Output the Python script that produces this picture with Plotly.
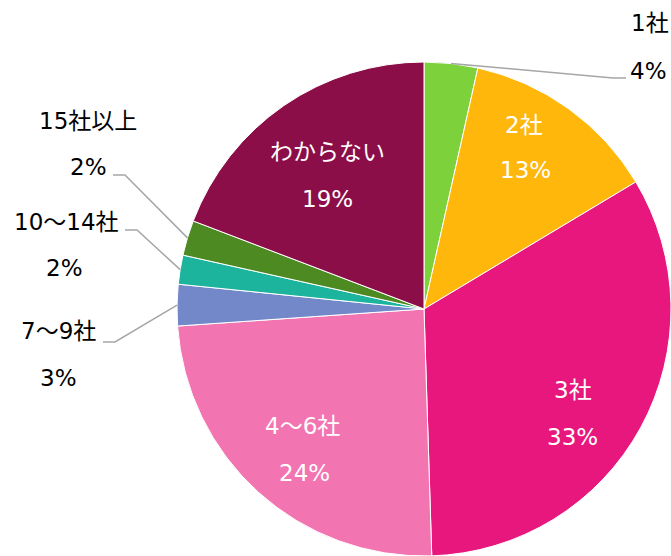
import math
import plotly.graph_objects as go

# ---- data ----
categories = ["1社", "2社", "3社", "4～6社", "7～9社", "10～14社", "15社以上", "わからない"]
values = [3.5, 12.9, 33.1, 24.4, 2.7, 1.9, 2.3, 19.2]
pct_labels = ["4%", "13%", "33%", "24%", "3%", "2%", "2%", "19%"]

# ---- style ----
colors = ["#7DD13B", "#FFB70C", "#E8177D", "#F274B0", "#7388C9", "#1DB49E", "#4E8A22", "#8C0E48"]
WIN_W, WIN_H = 671, 556
OFF = 0  # page body margin removed via post_script
W, H = WIN_W, WIN_H
FONT = "DejaVu Sans, Noto Sans CJK JP, sans-serif"
FS = 23

# pie geometry (window pixels)
R_PIX = 247
cx, cy = 424, 309
dom_x = [(cx - R_PIX - OFF) / W, min(1.0, (cx + R_PIX - OFF) / W)]
dom_y = [max(0.0, 1 - (cy + R_PIX - OFF) / H), 1 - (cy - R_PIX - OFF) / H]
r = R_PIX

# label placement (window pixel centres of name line / percent line)
label_pos = {
    "1社": ((650, 23), (648, 71), "out"),
    "2社": ((524, 125), (525, 170), "in"),
    "3社": ((573, 390), (572, 437), "in"),
    "4～6社": ((302, 426), (304, 473), "in"),
    "7～9社": ((58, 331), (58, 378), "out"),
    "10～14社": ((66, 222), (64, 268), "out"),
    "15社以上": ((88, 121), (88, 167), "out"),
    "わからない": ((327, 152), (327, 199), "in"),
}
# leader line elbow and end (window pixels) for outside labels
leaders = {
    "1社": ((613, 78), (626, 78)),
    "15社以上": ((125, 175), (113, 175)),
    "10～14社": ((137, 230), (125, 230)),
    "7～9社": ((115, 342), (103, 342)),
}


def px(x, y):
    return (x - OFF) / W, 1 - (y - OFF) / H


fig = go.Figure(go.Pie(
    labels=categories,
    values=values,
    sort=False,
    direction="clockwise",
    rotation=0,
    marker=dict(colors=colors, line=dict(color="white", width=1)),
    textinfo="none",
    hoverinfo="label+percent",
    domain=dict(x=dom_x, y=dom_y),
    showlegend=False,
))

annotations = []
shapes = []
total = sum(values)
cum = 0.0
for cat, v, pl in zip(categories, values, pct_labels):
    mid = (cum + v / 2) / total * 2 * math.pi
    cum += v
    (nx, ny), (qx, qy), where = label_pos[cat]
    col = "white" if where == "in" else "black"
    for (tx, ty), txt in (((nx, ny), cat), ((qx, qy), pl)):
        ax, ay = px(tx, ty)
        annotations.append(dict(
            x=ax, y=ay, xref="paper", yref="paper", text=txt, showarrow=False,
            xanchor="center", yanchor="middle",
            font=dict(family=FONT, size=FS, color=col),
        ))
    if cat in leaders:
        sx = cx + r * math.sin(mid)
        sy = cy - r * math.cos(mid)
        (ex, ey), (fx, fy) = leaders[cat]
        p0 = px(sx, sy)
        p1 = px(ex, ey)
        p2 = px(fx, fy)
        shapes.append(dict(
            type="path", xref="paper", yref="paper",
            path=f"M {p0[0]} {p0[1]} L {p1[0]} {p1[1]} L {p2[0]} {p2[1]}",
            line=dict(color="#A6A6A6", width=1.5),
        ))

fig.update_layout(
    width=W, height=H,
    margin=dict(l=0, r=0, t=0, b=0),
    paper_bgcolor="white",
    plot_bgcolor="white",
    annotations=annotations,
    shapes=shapes,
)

fig.write_html(
    "out.html",
    config={"displayModeBar": False},
    post_script="document.body.style.margin='0';document.body.style.overflow='hidden';",
)
